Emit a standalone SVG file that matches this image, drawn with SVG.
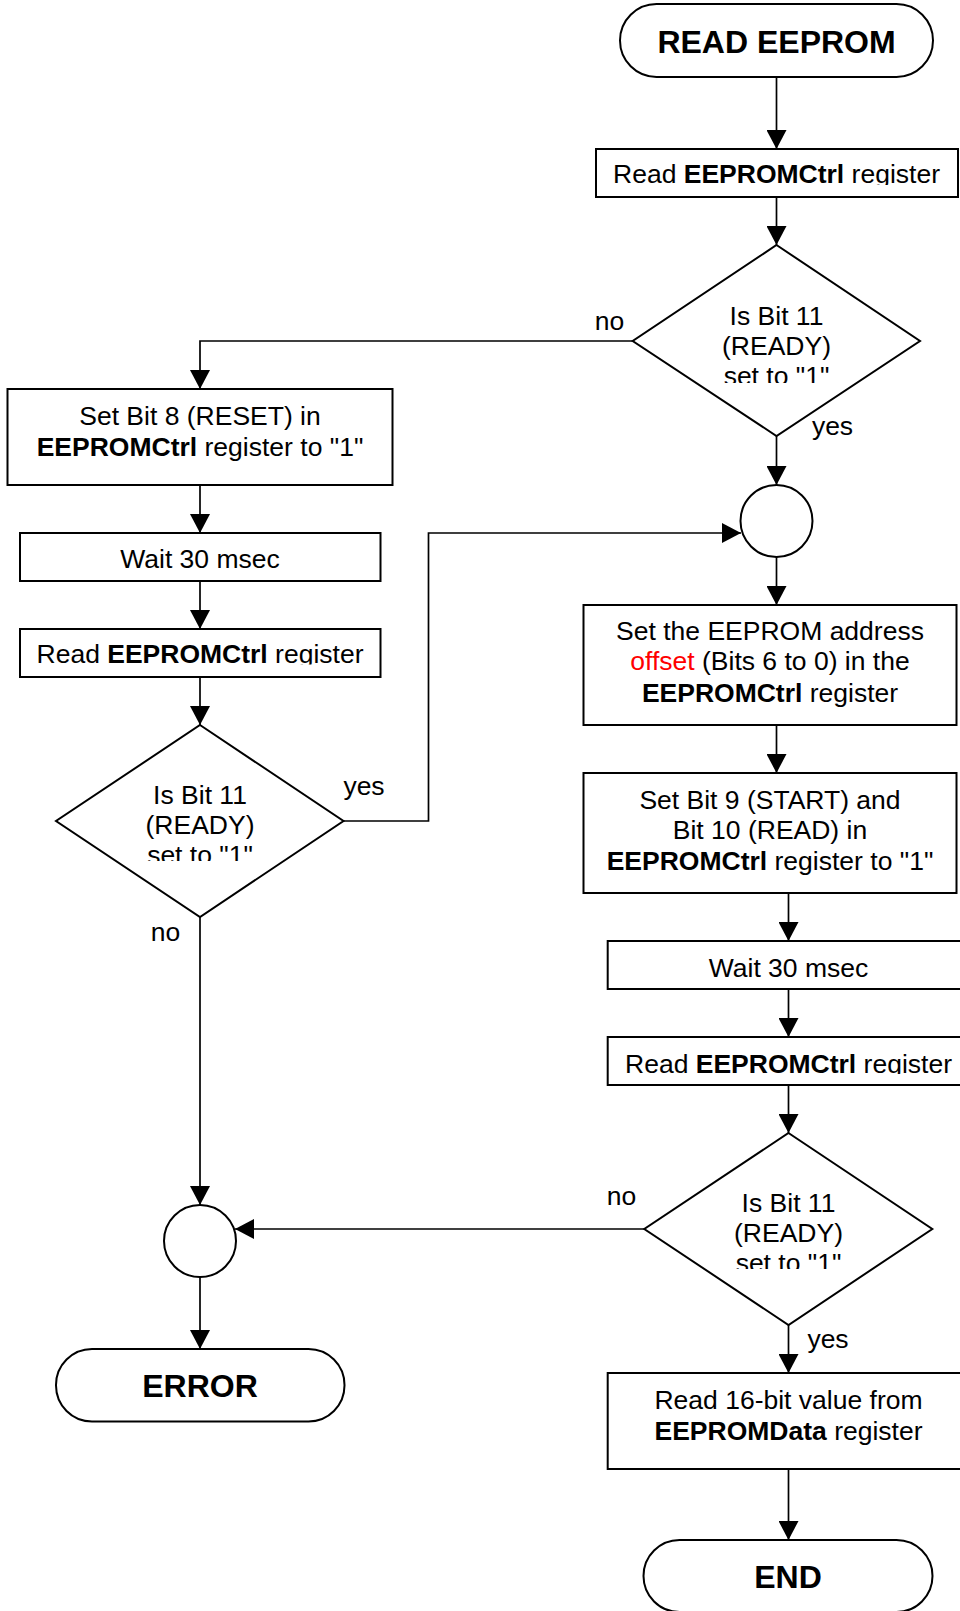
<svg xmlns="http://www.w3.org/2000/svg" width="960" height="1611" viewBox="0 0 960 1611">
<style>
.s{fill:#fff;stroke:#000;stroke-width:2}
.c{fill:none;stroke:#000;stroke-width:1.7}
text{font-family:"Liberation Sans",Arial,sans-serif;font-size:26.5px;fill:#000;text-anchor:middle}
.t{font-size:32px;font-weight:bold}
.b{font-weight:bold}
.r{fill:#ff0000}
</style>
<defs>
<marker id="ah" markerUnits="userSpaceOnUse" markerWidth="20" markerHeight="20" refX="19" refY="10" orient="auto">
<path d="M0,0 L19,10 L0,20 z" fill="#000"/>
</marker>
<clipPath id="cp1"><rect x="590" y="150" width="370" height="35"/></clipPath>
<clipPath id="cp2"><rect x="15" y="630" width="370" height="34.5"/></clipPath>
<clipPath id="cp3"><rect x="600" y="1038" width="360" height="36"/></clipPath>
<clipPath id="cd1"><rect x="630" y="290" width="290" height="93"/></clipPath>
<clipPath id="cd2"><rect x="56" y="770" width="290" height="91"/></clipPath>
<clipPath id="cd3"><rect x="644" y="1180" width="290" height="89"/></clipPath>
</defs>

<g id="connectors">
<path class="c" d="M776.5,77 V149" marker-end="url(#ah)"/>
<path class="c" d="M776.5,197 V245" marker-end="url(#ah)"/>
<path class="c" d="M632.7,341 H200 V389" marker-end="url(#ah)"/>
<path class="c" d="M776.5,436 V485" marker-end="url(#ah)"/>
<path class="c" d="M776.5,557 V605" marker-end="url(#ah)"/>
<path class="c" d="M776.5,725 V773" marker-end="url(#ah)"/>
<path class="c" d="M788.5,893 V941" marker-end="url(#ah)"/>
<path class="c" d="M788.5,989 V1037" marker-end="url(#ah)"/>
<path class="c" d="M788.5,1085 V1133" marker-end="url(#ah)"/>
<path class="c" d="M788.5,1325 V1373" marker-end="url(#ah)"/>
<path class="c" d="M788.5,1469 V1540" marker-end="url(#ah)"/>
<path class="c" d="M644.3,1229 H235" marker-end="url(#ah)"/>
<path class="c" d="M200,485 V533" marker-end="url(#ah)"/>
<path class="c" d="M200,581 V629" marker-end="url(#ah)"/>
<path class="c" d="M200,677 V725" marker-end="url(#ah)"/>
<path class="c" d="M200,917 V1205" marker-end="url(#ah)"/>
<path class="c" d="M343.5,821 H428.5 V533 H741" marker-end="url(#ah)"/>
<path class="c" d="M200,1277 V1349" marker-end="url(#ah)"/>
<text x="609.5" y="330">no</text>
<text x="832.5" y="435">yes</text>
<text x="364" y="795">yes</text>
<text x="165.5" y="941">no</text>
<text x="621.5" y="1205">no</text>
<text x="828" y="1348">yes</text>
</g>

<g id="start">
<rect class="s" x="620" y="4" width="313" height="73" rx="36.5" ry="36.5"/>
<text class="t" x="776.5" y="53">READ EEPROM</text>
</g>

<g id="read1">
<rect class="s" x="596" y="149" width="362" height="48"/>
<text x="776.5" y="183" clip-path="url(#cp1)">Read <tspan class="b">EEPROMCtrl</tspan> register</text>
</g>

<g id="dec1">
<polygon class="s" points="776.5,245 920,341 776.5,436 632.7,341"/>
<g clip-path="url(#cd1)">
<text x="776.5" y="325">Is Bit 11</text>
<text x="776.5" y="355">(READY)</text>
<text x="776.5" y="385">set to "1"</text>
</g>
</g>

<g id="join1">
<circle class="s" cx="776.5" cy="521" r="36"/>
</g>

<g id="setaddr">
<rect class="s" x="583.5" y="605" width="373" height="120"/>
<text x="770" y="640">Set the EEPROM address</text>
<text x="770" y="670"><tspan class="r">offset</tspan> (Bits 6 to 0) in the</text>
<text x="770" y="701.5"><tspan class="b">EEPROMCtrl</tspan> register</text>
</g>

<g id="setstart">
<rect class="s" x="583.5" y="773" width="373" height="120"/>
<text x="770" y="808.5">Set Bit 9 (START) and</text>
<text x="770" y="838.5">Bit 10 (READ) in</text>
<text x="770" y="870"><tspan class="b">EEPROMCtrl</tspan> register to "1"</text>
</g>

<g id="wait2">
<rect class="s" x="607.7" y="941" width="362" height="48"/>
<text x="788.5" y="976.5">Wait 30 msec</text>
</g>

<g id="read3">
<rect class="s" x="607.7" y="1037" width="362" height="48"/>
<text x="788.5" y="1072.5" clip-path="url(#cp3)">Read <tspan class="b">EEPROMCtrl</tspan> register</text>
</g>

<g id="dec3">
<polygon class="s" points="788.5,1133 932.3,1229 788.5,1325 644.3,1229"/>
<g clip-path="url(#cd3)">
<text x="788.5" y="1211.5">Is Bit 11</text>
<text x="788.5" y="1241.5">(READY)</text>
<text x="788.5" y="1271.5">set to "1"</text>
</g>
</g>

<g id="readdata">
<rect class="s" x="607.7" y="1373" width="362" height="96"/>
<text x="788.5" y="1409">Read 16-bit value from</text>
<text x="788.5" y="1440"><tspan class="b">EEPROMData</tspan> register</text>
</g>

<g id="end">
<rect class="s" x="643.5" y="1540" width="289" height="72" rx="36" ry="36"/>
<text class="t" x="788" y="1588">END</text>
</g>

<g id="reset">
<rect class="s" x="7.5" y="389" width="385" height="96"/>
<text x="200" y="425">Set Bit 8 (RESET) in</text>
<text x="200" y="455.5"><tspan class="b">EEPROMCtrl</tspan> register to "1"</text>
</g>

<g id="wait1">
<rect class="s" x="20" y="533" width="360.5" height="48"/>
<text x="200" y="568">Wait 30 msec</text>
</g>

<g id="read2">
<rect class="s" x="20" y="629" width="360.5" height="48"/>
<text x="200" y="662.5" clip-path="url(#cp2)">Read <tspan class="b">EEPROMCtrl</tspan> register</text>
</g>

<g id="dec2">
<polygon class="s" points="200,725 343.5,821 200,917 56,821"/>
<g clip-path="url(#cd2)">
<text x="200" y="803.5">Is Bit 11</text>
<text x="200" y="833.5">(READY)</text>
<text x="200" y="863.5">set to "1"</text>
</g>
</g>

<g id="join2">
<circle class="s" cx="200" cy="1241" r="36"/>
</g>

<g id="error">
<rect class="s" x="56" y="1349" width="288.5" height="72.5" rx="36" ry="36"/>
<text class="t" x="200" y="1396.5">ERROR</text>
</g>
</svg>
